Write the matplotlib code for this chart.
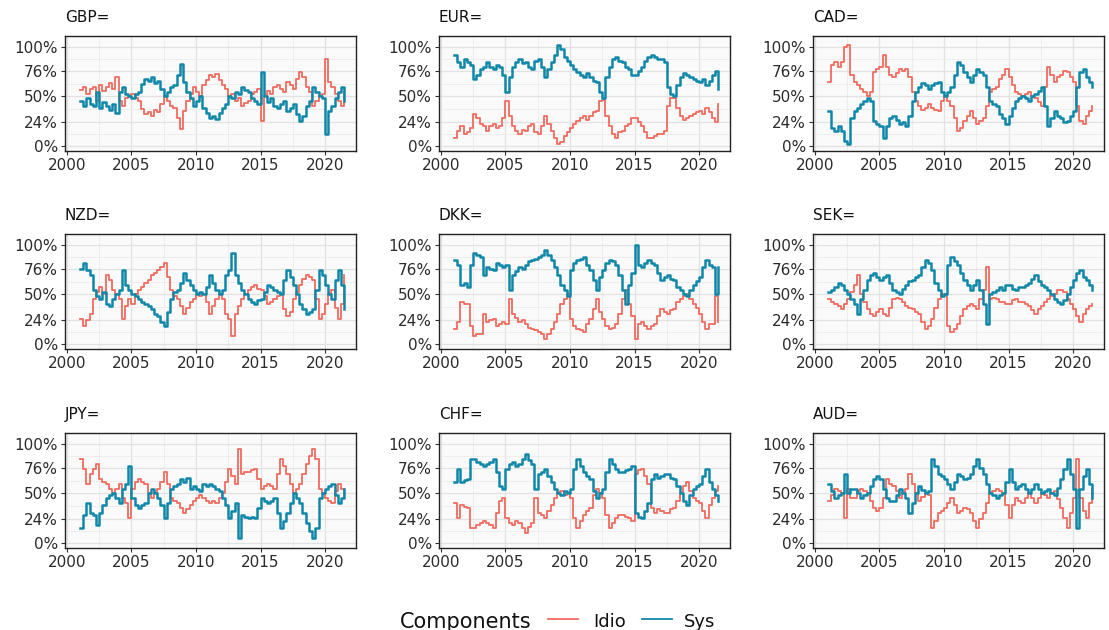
import numpy as np
import matplotlib
matplotlib.use('Agg')
import matplotlib.pyplot as plt
from matplotlib.lines import Line2D
from matplotlib.ticker import FixedLocator

## Udzial skladowej idiosynkratycznej i systematycznej (w %), dane kwartalne 2001 - 2021.5

quarters = 2001 + np.arange(83) / 4

gbp_idio = [57, 60, 52, 58, 60, 45, 62, 56, 60, 64, 58, 70, 45, 40, 48, 50, 52, 48, 45, 37,
            32, 34, 30, 36, 34, 42, 50, 45, 40, 38, 28, 17, 35, 45, 52, 60, 55, 50, 62, 67,
            72, 70, 73, 67, 62, 58, 50, 52, 45, 48, 40, 43, 45, 52, 55, 58, 25, 50, 56, 52,
            60, 62, 58, 55, 65, 62, 58, 68, 75, 70, 60, 55, 40, 45, 50, 52, 88, 65, 60, 52,
            45, 40, 55]
gbp_sys = [45, 40, 48, 42, 40, 55, 38, 44, 40, 36, 42, 33, 55, 60, 52, 50, 48, 52, 55, 63,
           68, 66, 70, 64, 66, 58, 50, 55, 60, 62, 72, 83, 65, 55, 48, 40, 45, 50, 38, 33,
           28, 30, 27, 33, 38, 42, 50, 48, 55, 52, 60, 57, 55, 48, 45, 42, 75, 50, 44, 48,
           40, 38, 42, 45, 35, 38, 42, 32, 25, 30, 40, 45, 60, 55, 50, 48, 12, 35, 40, 48,
           55, 60, 45]

eur_idio = [8, 15, 20, 12, 14, 18, 32, 28, 22, 20, 15, 20, 22, 18, 20, 28, 45, 30, 20, 15,
            12, 16, 15, 20, 22, 14, 12, 20, 30, 22, 15, 8, 2, 4, 10, 14, 18, 22, 25, 28,
            30, 26, 30, 34, 35, 45, 46, 30, 20, 12, 8, 14, 15, 20, 22, 28, 28, 24, 20, 14,
            8, 8, 10, 12, 12, 15, 40, 48, 48, 38, 30, 26, 28, 30, 32, 34, 35, 32, 38, 34,
            28, 24, 42]
eur_sys = [92, 85, 80, 88, 85, 82, 68, 72, 78, 80, 85, 80, 78, 82, 80, 72, 55, 70, 80, 85,
           88, 84, 85, 80, 78, 86, 88, 80, 70, 78, 85, 92, 102, 98, 90, 86, 82, 78, 75, 72,
           70, 74, 70, 66, 65, 55, 48, 70, 80, 88, 90, 86, 85, 80, 78, 72, 72, 76, 80, 86,
           90, 92, 90, 88, 88, 85, 60, 52, 50, 62, 70, 74, 72, 70, 68, 66, 65, 68, 62, 66,
           72, 76, 58]

cad_idio = [65, 82, 85, 80, 85, 100, 102, 72, 65, 62, 58, 55, 50, 55, 75, 78, 80, 92, 80, 72,
            70, 74, 78, 76, 78, 70, 55, 45, 40, 36, 38, 42, 38, 36, 35, 45, 50, 45, 40, 28,
            15, 18, 25, 30, 35, 28, 22, 25, 28, 40, 55, 58, 60, 68, 72, 78, 70, 62, 55, 52,
            50, 52, 55, 50, 48, 44, 40, 60, 80, 72, 65, 70, 72, 76, 75, 70, 65, 40, 25, 22,
            30, 35, 40]
cad_sys = [35, 18, 15, 20, 15, 5, 2, 28, 35, 38, 42, 45, 48, 45, 25, 22, 20, 8, 20, 28,
           30, 26, 22, 24, 20, 30, 45, 55, 60, 64, 62, 58, 62, 64, 65, 55, 50, 55, 60, 72,
           85, 82, 75, 70, 65, 72, 78, 75, 72, 60, 45, 42, 40, 32, 28, 22, 30, 38, 45, 48,
           50, 48, 45, 50, 52, 56, 60, 40, 20, 28, 35, 30, 28, 24, 25, 30, 35, 60, 75, 78,
           70, 65, 60]

nzd_idio = [25, 18, 24, 30, 45, 52, 58, 50, 70, 65, 55, 50, 45, 25, 38, 45, 40, 50, 55, 58,
            62, 65, 70, 72, 75, 78, 82, 68, 55, 48, 45, 38, 30, 36, 42, 45, 50, 48, 50, 42,
            30, 38, 45, 50, 45, 30, 25, 8, 30, 38, 45, 50, 55, 58, 60, 56, 55, 48, 40, 42,
            45, 48, 50, 35, 28, 32, 45, 52, 60, 66, 70, 68, 65, 45, 25, 30, 40, 50, 55, 36,
            25, 40, 70]
nzd_sys = [76, 82, 75, 70, 55, 48, 45, 52, 40, 38, 45, 50, 55, 75, 60, 55, 50, 48, 45, 42,
           40, 38, 35, 30, 28, 22, 18, 32, 45, 52, 55, 62, 72, 65, 60, 55, 50, 52, 50, 58,
           70, 62, 55, 50, 55, 70, 75, 92, 70, 62, 55, 50, 45, 42, 40, 44, 45, 52, 60, 58,
           55, 52, 50, 65, 75, 68, 60, 50, 40, 35, 30, 32, 35, 55, 75, 70, 60, 50, 45, 65,
           75, 60, 35]

dkk_idio = [15, 22, 42, 40, 40, 18, 8, 10, 10, 30, 22, 24, 25, 18, 20, 22, 20, 45, 30, 26,
            22, 24, 20, 16, 15, 14, 12, 10, 5, 10, 15, 22, 30, 40, 45, 50, 25, 18, 15, 14,
            12, 20, 25, 35, 45, 32, 25, 18, 15, 16, 20, 30, 45, 55, 40, 28, 5, 20, 22, 18,
            15, 18, 20, 28, 35, 32, 30, 34, 35, 42, 45, 48, 50, 45, 40, 36, 30, 22, 15, 20,
            20, 48, 22]
dkk_sys = [85, 80, 60, 62, 58, 80, 92, 90, 88, 70, 78, 76, 75, 82, 80, 78, 80, 55, 70, 74,
           78, 76, 80, 84, 85, 86, 88, 90, 95, 90, 85, 78, 70, 60, 55, 48, 75, 82, 85, 86,
           88, 80, 75, 65, 55, 68, 75, 82, 85, 84, 80, 70, 55, 40, 60, 72, 100, 80, 78, 82,
           85, 82, 80, 72, 65, 68, 70, 66, 65, 58, 55, 50, 48, 55, 60, 64, 68, 78, 85, 80,
           78, 50, 78]

sek_idio = [45, 42, 40, 38, 35, 40, 45, 52, 60, 70, 50, 42, 35, 30, 28, 32, 35, 30, 28, 36,
            45, 46, 45, 42, 38, 36, 35, 32, 30, 22, 15, 18, 25, 36, 45, 50, 50, 18, 12, 15,
            20, 28, 35, 38, 40, 38, 35, 45, 55, 78, 45, 46, 45, 42, 42, 40, 40, 44, 45, 42,
            42, 40, 38, 34, 30, 35, 38, 42, 45, 48, 50, 55, 55, 52, 45, 40, 35, 28, 22, 30,
            35, 38, 40]
sek_sys = [52, 55, 58, 62, 60, 55, 50, 45, 40, 30, 45, 55, 65, 70, 72, 68, 65, 68, 70, 62,
           55, 52, 50, 56, 60, 64, 65, 68, 70, 78, 85, 82, 75, 62, 55, 48, 50, 80, 88, 84,
           80, 72, 65, 60, 55, 60, 65, 55, 40, 20, 50, 52, 55, 58, 55, 60, 60, 56, 55, 58,
           58, 60, 62, 66, 70, 64, 60, 58, 55, 50, 45, 42, 40, 44, 50, 58, 65, 72, 75, 68,
           65, 60, 55]

jpy_idio = [85, 75, 60, 70, 75, 80, 65, 62, 60, 55, 50, 55, 60, 45, 40, 25, 55, 62, 65, 62,
            60, 50, 45, 50, 55, 62, 72, 60, 45, 42, 40, 35, 30, 34, 38, 42, 45, 48, 45, 42,
            40, 42, 40, 45, 50, 62, 75, 68, 60, 95, 70, 72, 72, 74, 75, 65, 55, 58, 60, 58,
            55, 70, 85, 78, 70, 60, 50, 55, 60, 70, 80, 88, 95, 85, 55, 50, 45, 42, 40, 52,
            60, 55, 45]
jpy_sys = [15, 28, 40, 30, 28, 18, 30, 38, 45, 48, 50, 45, 40, 55, 60, 78, 45, 38, 35, 38,
           40, 50, 55, 50, 45, 38, 25, 40, 55, 58, 60, 65, 62, 66, 55, 58, 55, 52, 60, 58,
           60, 58, 55, 52, 45, 38, 25, 32, 40, 5, 28, 26, 25, 26, 25, 35, 45, 42, 40, 42,
           45, 30, 15, 22, 30, 40, 50, 45, 40, 30, 20, 12, 5, 15, 45, 50, 55, 58, 60, 48,
           40, 45, 55]

chf_idio = [40, 25, 38, 36, 35, 15, 15, 18, 20, 22, 20, 18, 15, 30, 42, 45, 25, 20, 18, 22,
            20, 15, 10, 16, 20, 45, 30, 28, 25, 32, 38, 45, 50, 52, 48, 50, 45, 25, 15, 22,
            28, 32, 35, 48, 55, 50, 45, 28, 15, 20, 25, 28, 28, 26, 25, 22, 70, 74, 75, 68,
            60, 35, 30, 34, 32, 30, 30, 34, 35, 42, 50, 58, 62, 52, 45, 42, 40, 32, 25, 38,
            45, 52, 58]
chf_sys = [62, 75, 62, 64, 65, 85, 85, 82, 80, 78, 80, 82, 85, 72, 58, 55, 75, 80, 82, 78,
           80, 85, 90, 84, 80, 55, 70, 72, 75, 68, 62, 55, 50, 48, 52, 50, 55, 75, 85, 78,
           72, 68, 65, 52, 45, 50, 55, 72, 85, 80, 75, 72, 72, 74, 75, 78, 30, 26, 25, 32,
           40, 65, 70, 66, 68, 70, 70, 66, 65, 58, 50, 42, 38, 48, 55, 58, 60, 68, 75, 62,
           55, 48, 42]

aud_idio = [42, 48, 55, 52, 50, 25, 55, 45, 45, 52, 55, 52, 50, 42, 35, 32, 35, 45, 65, 60,
            58, 52, 45, 50, 55, 70, 60, 50, 42, 46, 50, 48, 15, 22, 30, 32, 35, 40, 45, 38,
            30, 32, 35, 34, 30, 22, 15, 24, 30, 40, 50, 52, 55, 52, 50, 38, 25, 38, 45, 42,
            40, 45, 50, 45, 40, 45, 50, 48, 45, 50, 52, 44, 35, 25, 15, 30, 45, 85, 45, 32,
            25, 40, 55]
aud_sys = [60, 52, 45, 48, 50, 70, 50, 55, 55, 50, 45, 48, 50, 58, 65, 68, 65, 55, 45, 42,
           42, 48, 55, 50, 45, 30, 40, 50, 58, 54, 50, 52, 85, 78, 70, 68, 65, 60, 55, 62,
           70, 68, 65, 66, 70, 78, 85, 76, 70, 60, 50, 48, 45, 48, 50, 62, 75, 62, 55, 58,
           60, 55, 50, 55, 60, 55, 50, 52, 55, 50, 48, 56, 65, 75, 85, 70, 55, 15, 55, 68,
           75, 60, 45]

currencies = ['GBP=', 'EUR=', 'CAD=', 'NZD=', 'DKK=', 'SEK=', 'JPY=', 'CHF=', 'AUD=']
idio = [gbp_idio, eur_idio, cad_idio, nzd_idio, dkk_idio, sek_idio, jpy_idio, chf_idio, aud_idio]
sys_ = [gbp_sys, eur_sys, cad_sys, nzd_sys, dkk_sys, sek_sys, jpy_sys, chf_sys, aud_sys]

y_ticks = [0, 0.24, 0.50, 0.76, 1.0]
y_labels = ['0%', '24%', '50%', '76%', '100%']
x_ticks = [2000, 2005, 2010, 2015, 2020]

idio_color = '#F26B5E'
sys_color = '#0F87A8'

plt.rcParams['font.family'] = 'DejaVu Sans'

fig = plt.figure(figsize=(11.09, 6.30), dpi=100)

W, H = 1109, 630
col_left = [65, 439, 813]
row_top = [36, 234, 433]
ax_w, ax_h = 291, 115

for i, name in enumerate(currencies):
    r, c = divmod(i, 3)
    ax = fig.add_axes([col_left[c] / W, 1 - (row_top[r] + ax_h) / H, ax_w / W, ax_h / H])
    ax.set_facecolor('#FAFAFA')

    ax.plot(quarters, np.array(idio[i]) / 100, color=idio_color, lw=1.3, drawstyle='steps-post')
    ax.plot(quarters, np.array(sys_[i]) / 100, color=sys_color, lw=1.8, drawstyle='steps-post')

    ax.set_xlim(1999.85, 2022.4)
    ax.set_ylim(-0.05, 1.11)
    ax.set_xticks(x_ticks)
    ax.set_xticklabels([str(x) for x in x_ticks])
    ax.set_yticks(y_ticks)
    ax.set_yticklabels(y_labels)
    ax.xaxis.set_minor_locator(FixedLocator([2002.5, 2007.5, 2012.5, 2017.5]))
    ax.yaxis.set_minor_locator(FixedLocator([0.12, 0.37, 0.63, 0.88]))

    ax.grid(which='major', color='#E2E2E2', lw=0.9)
    ax.grid(which='minor', color='#EDEDED', lw=0.7)
    ax.set_axisbelow(True)

    ax.tick_params(which='major', length=3, width=0.8, color='#333333', labelsize=11,
                   labelcolor='#2B2B2B', pad=2)
    ax.tick_params(which='minor', length=0)
    for sp in ax.spines.values():
        sp.set_color('#222222')
        sp.set_linewidth(1.0)

    ax.set_title(name, loc='left', fontsize=11, pad=10, color='#111111')

## Legenda na dole
fig.text(400 / W, 1 - 622 / H, 'Components', fontsize=15, va='center', ha='left', color='#111111')
fig.add_artist(Line2D([548 / W, 578 / W], [1 - 619 / H, 1 - 619 / H], color=idio_color, lw=1.3))
fig.text(593 / W, 1 - 622 / H, 'Idio', fontsize=13, va='center', ha='left', color='#111111')
fig.add_artist(Line2D([642 / W, 672 / W], [1 - 619 / H, 1 - 619 / H], color=sys_color, lw=1.3))
fig.text(684 / W, 1 - 622 / H, 'Sys', fontsize=13, va='center', ha='left', color='#111111')

fig.savefig('out.png', dpi=100)
